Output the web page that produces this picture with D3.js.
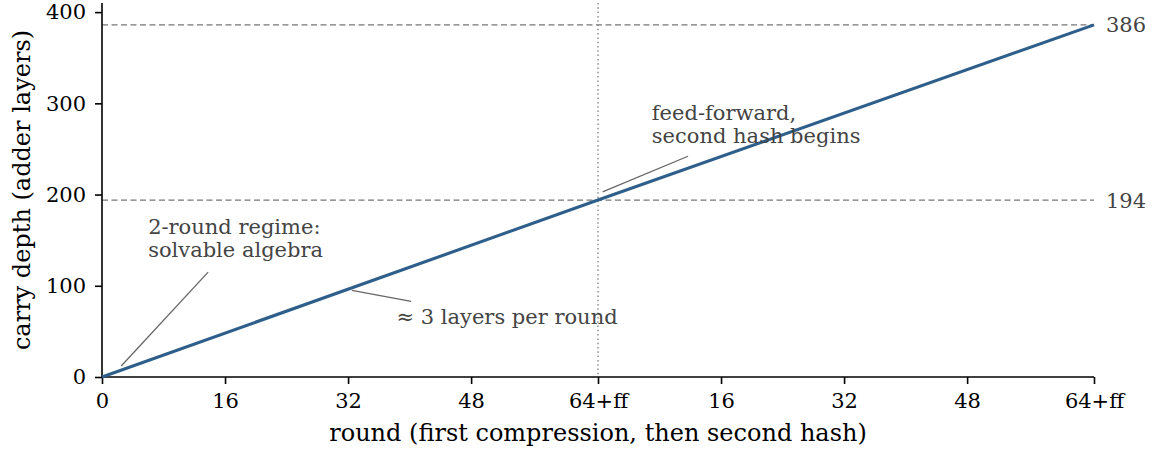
<!DOCTYPE html>
<html lang="en">
<head>
    <meta charset="UTF-8">
    <title>carry depth per round</title>
    <script src="https://d3js.org/d3.v7.min.js"></script>
    <style>
        body {
            margin: 0;
            background: #fff;
        }
        svg text {
            font-family: "DejaVu Serif", serif;
        }
        .tick text {
            font-size: 21px;
            fill: #000;
        }
        .axis-label {
            font-size: 24px;
            fill: #000;
        }
        .note {
            font-size: 21px;
            fill: #444;
        }
    </style>
</head>
<body>
    <div id="chart"></div>
    <script>
        // round positions (second hash continues after 64 rounds + feed-forward)
        const roundPos = [0, 64.5, 129];
        const carryDepth = [0, 194, 386];

        const tickValues = [0, 16, 32, 48, 64.5, 80.5, 96.5, 112.5, 129];
        const tickLabels = ["0", "16", "32", "48", "64+ff", "16", "32", "48", "64+ff"];
        const yTicks = [0, 100, 200, 300, 400];

        const refLevels = [194, 386];
        const feedForward = 64.5;

        const width = 1153;
        const height = 452;
        const margin = { top: 3, right: 59, bottom: 75, left: 102 };

        const svg = d3.select("#chart")
            .append("svg")
            .attr("width", width)
            .attr("height", height);

        const x = d3.scaleLinear()
            .domain([0, 129])
            .range([margin.left, width - margin.right]);

        const y = d3.scaleLinear()
            .domain([0, 410])
            .range([height - margin.bottom, margin.top]);

        // reference lines
        svg.selectAll(".ref")
            .data(refLevels)
            .enter()
            .append("line")
            .attr("x1", x(0))
            .attr("x2", x(129))
            .attr("y1", d => y(d))
            .attr("y2", d => y(d))
            .attr("stroke", "#777")
            .attr("stroke-width", 1.3)
            .attr("stroke-dasharray", "6,3.5");

        svg.selectAll(".ref-label")
            .data(refLevels)
            .enter()
            .append("text")
            .attr("class", "note")
            .attr("x", x(129) + 12)
            .attr("y", d => y(d))
            .attr("dy", "0.36em")
            .text(d => d);

        svg.append("line")
            .attr("x1", x(feedForward))
            .attr("x2", x(feedForward))
            .attr("y1", y(410))
            .attr("y2", y(0))
            .attr("stroke", "#888")
            .attr("stroke-width", 1.4)
            .attr("stroke-dasharray", "1.5,2.8");

        // axes
        const xAxis = svg.append("g")
            .attr("transform", `translate(0,${y(0)})`)
            .call(d3.axisBottom(x)
                .tickValues(tickValues)
                .tickFormat((d, i) => tickLabels[i])
                .tickSize(7)
                .tickPadding(9));

        const yAxis = svg.append("g")
            .attr("transform", `translate(${x(0)},0)`)
            .call(d3.axisLeft(y)
                .tickValues(yTicks)
                .tickSize(7)
                .tickPadding(9));

        [xAxis, yAxis].forEach(g => {
            g.selectAll("path, line").attr("stroke", "#000").attr("stroke-width", 1.6);
            g.select(".domain").attr("d", null);
        });
        xAxis.append("line")
            .attr("x1", x(0)).attr("x2", x(129))
            .attr("stroke", "#000").attr("stroke-width", 1.6);
        yAxis.append("line")
            .attr("y1", y(0)).attr("y2", y(410))
            .attr("stroke", "#000").attr("stroke-width", 1.6);

        svg.append("text")
            .attr("class", "axis-label")
            .attr("x", (x(0) + x(129)) / 2)
            .attr("y", 441)
            .attr("text-anchor", "middle")
            .text("round (first compression, then second hash)");

        svg.append("text")
            .attr("class", "axis-label")
            .attr("transform", `translate(30,${(y(0) + y(410)) / 2}) rotate(-90)`)
            .attr("text-anchor", "middle")
            .text("carry depth (adder layers)");

        // main curve
        const line = d3.line()
            .x(d => x(d[0]))
            .y(d => y(d[1]));

        svg.append("path")
            .datum(roundPos.map((r, i) => [r, carryDepth[i]]))
            .attr("d", line)
            .attr("fill", "none")
            .attr("stroke", "#2e5e8a")
            .attr("stroke-width", 3.1);

        // annotations
        const notes = [
            { lines: ["2-round regime:", "solvable algebra"], tx: 6, ty: 156.4, from: [13.8, 115], to: [2.5, 12] },
            { lines: ["\u2248 3 layers per round"], tx: 38.3, ty: 58.4, from: [40.2, 83], to: [32.5, 95] },
            { lines: ["feed-forward,", "second hash begins"], tx: 71.5, ty: 281.7, from: [76.2, 242], to: [65.1, 203] }
        ];

        notes.forEach(n => {
            svg.append("line")
                .attr("x1", x(n.from[0]))
                .attr("y1", y(n.from[1]))
                .attr("x2", x(n.to[0]))
                .attr("y2", y(n.to[1]))
                .attr("stroke", "#666")
                .attr("stroke-width", 1.3);

            const t = svg.append("text")
                .attr("class", "note")
                .attr("x", x(n.tx))
                .attr("y", y(n.ty));
            n.lines.forEach((s, i) => {
                t.append("tspan")
                    .attr("x", x(n.tx))
                    .attr("dy", i === 0 ? 0 : 23)
                    .text(s);
            });
        });
    </script>
</body>
</html>
